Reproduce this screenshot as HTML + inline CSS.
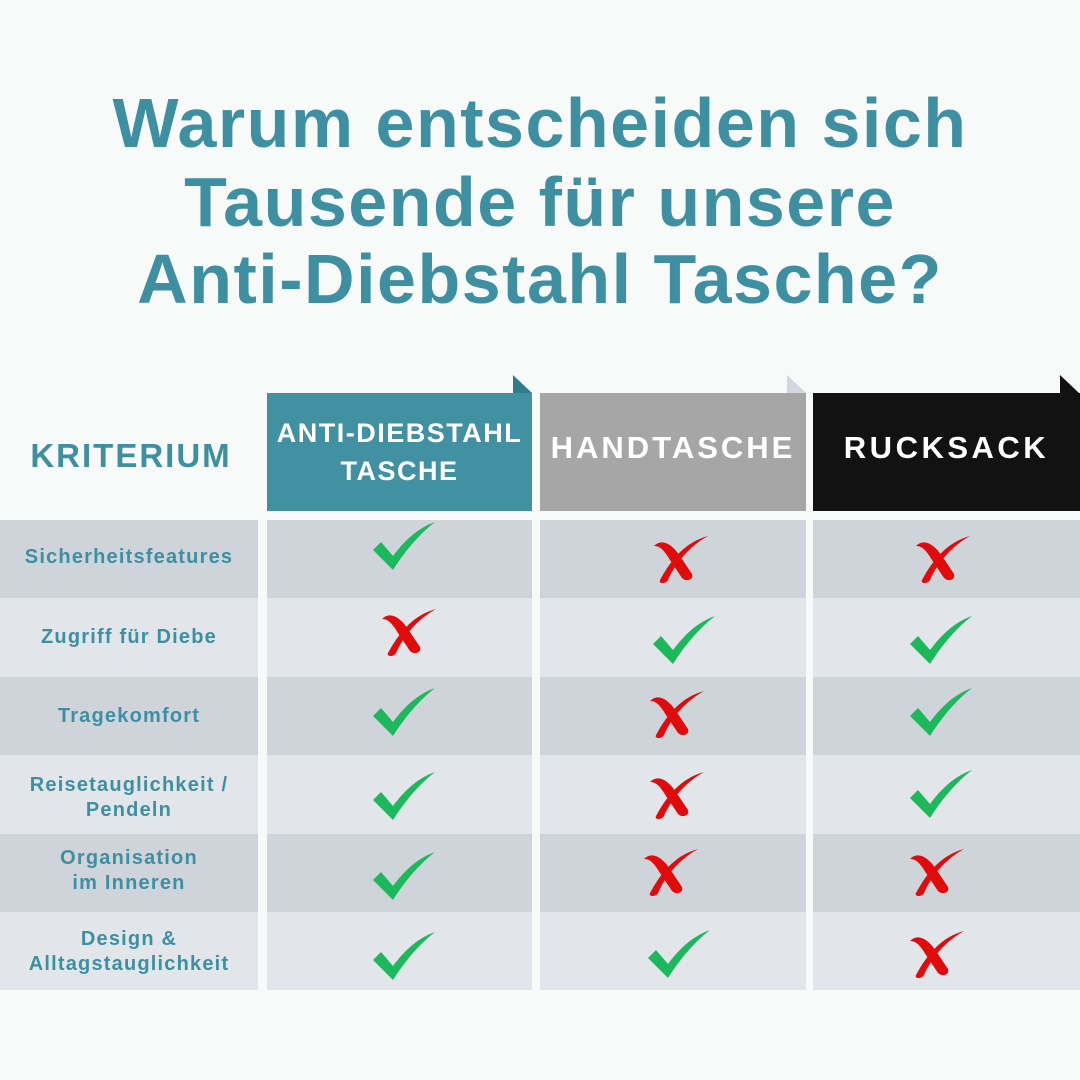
<!DOCTYPE html>
<html><head><meta charset="utf-8"><style>
body{margin:0;width:1080px;height:1080px;background:#f8fafa;font-family:"Liberation Sans",sans-serif;position:relative;overflow:hidden}
.t{position:absolute;left:0;width:1080px;text-align:center;color:#3e8fa1;font-weight:bold;font-size:70px;line-height:80px;letter-spacing:1.5px}
.c{position:absolute;display:flex;align-items:center;justify-content:center;text-align:center;font-weight:bold}
.h{color:#fff;font-size:28px;line-height:38px;letter-spacing:1.5px}
.l{color:#3e8fa1;font-size:20px;line-height:25px;left:0;width:258px;letter-spacing:1.2px}
svg{position:absolute}
</style></head><body>
<div class="t" style="top:83px">Warum entscheiden sich</div>
<div class="t" style="top:162px">Tausende für unsere</div>
<div class="t" style="top:239px">Anti-Diebstahl Tasche?</div>

<svg width="1080" height="1080" style="left:0;top:0">
<polygon points="513,375 532,393 513,393" fill="#2f7d8c"/>
<polygon points="787,375 806,393 787,393" fill="#d3d8de"/>
<polygon points="1060,375 1079,393 1060,393" fill="#111"/>
<rect x="267" y="393" width="265" height="118" fill="#4191a3"/>
<rect x="540" y="393" width="266" height="118" fill="#a6a6a6"/>
<rect x="813" y="393" width="267" height="118" fill="#121212"/>
<g id="rows">
<rect x="0" y="520" width="258" height="78" fill="#cfd4db"/><rect x="267" y="520" width="265" height="78" fill="#cfd4db"/><rect x="540" y="520" width="266" height="78" fill="#cfd4db"/><rect x="813" y="520" width="267" height="78" fill="#cfd4db"/>
<rect x="0" y="598" width="258" height="79" fill="#e2e6ea"/><rect x="267" y="598" width="265" height="79" fill="#e2e6ea"/><rect x="540" y="598" width="266" height="79" fill="#e2e6ea"/><rect x="813" y="598" width="267" height="79" fill="#e2e6ea"/>
<rect x="0" y="677" width="258" height="78" fill="#cfd4db"/><rect x="267" y="677" width="265" height="78" fill="#cfd4db"/><rect x="540" y="677" width="266" height="78" fill="#cfd4db"/><rect x="813" y="677" width="267" height="78" fill="#cfd4db"/>
<rect x="0" y="755" width="258" height="79" fill="#e2e6ea"/><rect x="267" y="755" width="265" height="79" fill="#e2e6ea"/><rect x="540" y="755" width="266" height="79" fill="#e2e6ea"/><rect x="813" y="755" width="267" height="79" fill="#e2e6ea"/>
<rect x="0" y="834" width="258" height="78" fill="#cfd4db"/><rect x="267" y="834" width="265" height="78" fill="#cfd4db"/><rect x="540" y="834" width="266" height="78" fill="#cfd4db"/><rect x="813" y="834" width="267" height="78" fill="#cfd4db"/>
<rect x="0" y="912" width="258" height="78" fill="#e2e6ea"/><rect x="267" y="912" width="265" height="78" fill="#e2e6ea"/><rect x="540" y="912" width="266" height="78" fill="#e2e6ea"/><rect x="813" y="912" width="267" height="78" fill="#e2e6ea"/>
</g>
<defs>
<path id="ck" d="M-30,2 L-22,-6 L-10,8 C2,-8 15,-20 32,-26 C14,-12 0,6 -10,22 Z" fill="#1cb85c"/>
<g id="x"><path d="M-24,-14 C-16,-22 -6,-16 2,-4 L14,14 C16,20 8,22 4,18 L-8,0 C-14,-10 -18,-14 -24,-14 Z" fill="#e10b0b"/><path d="M-18,20 C-6,-2 8,-18 30,-24 C12,-14 -2,2 -10,20 C-12,24 -20,24 -18,20 Z" fill="#e10b0b"/></g>
</defs>
<use href="#ck" x="403" y="548"/><use href="#x" x="678" y="560"/><use href="#x" x="940" y="560"/>
<use href="#x" x="406" y="633"/><use href="#ck" x="683" y="642"/><use href="#ck" x="940" y="642"/>
<use href="#ck" x="403" y="714"/><use href="#x" x="674" y="715"/><use href="#ck" x="940" y="714"/>
<use href="#ck" x="403" y="798"/><use href="#x" x="674" y="796"/><use href="#ck" x="940" y="796"/>
<use href="#ck" x="403" y="878"/><use href="#x" x="668" y="873"/><use href="#x" x="934" y="873"/>
<use href="#ck" x="403" y="958"/><use href="#ck" x="678" y="956"/><use href="#x" x="934" y="955"/>
</svg>

<div class="c" style="left:0;top:420px;width:262px;height:72px;color:#3e8fa1;font-size:33px;letter-spacing:2px">KRITERIUM</div>
<div class="c h" style="left:267px;top:393px;width:265px;height:118px;font-size:27px;letter-spacing:1.5px">ANTI-DIEBSTAHL<br>TASCHE</div>
<div class="c h" style="left:540px;top:393px;width:266px;height:110px;font-size:31px;letter-spacing:3px">HANDTASCHE</div>
<div class="c h" style="left:813px;top:393px;width:267px;height:110px;font-size:31px;letter-spacing:3.5px">RUCKSACK</div>

<div class="c l" style="top:520px;height:74px">Sicherheitsfeatures</div>
<div class="c l" style="top:598px;height:79px">Zugriff für Diebe</div>
<div class="c l" style="top:677px;height:78px">Tragekomfort</div>
<div class="c l" style="top:755px;height:86px">Reisetauglichkeit /<br>Pendeln</div>
<div class="c l" style="top:834px;height:74px">Organisation<br>im Inneren</div>
<div class="c l" style="top:912px;height:80px">Design &amp;<br>Alltagstauglichkeit</div>
</body></html>
